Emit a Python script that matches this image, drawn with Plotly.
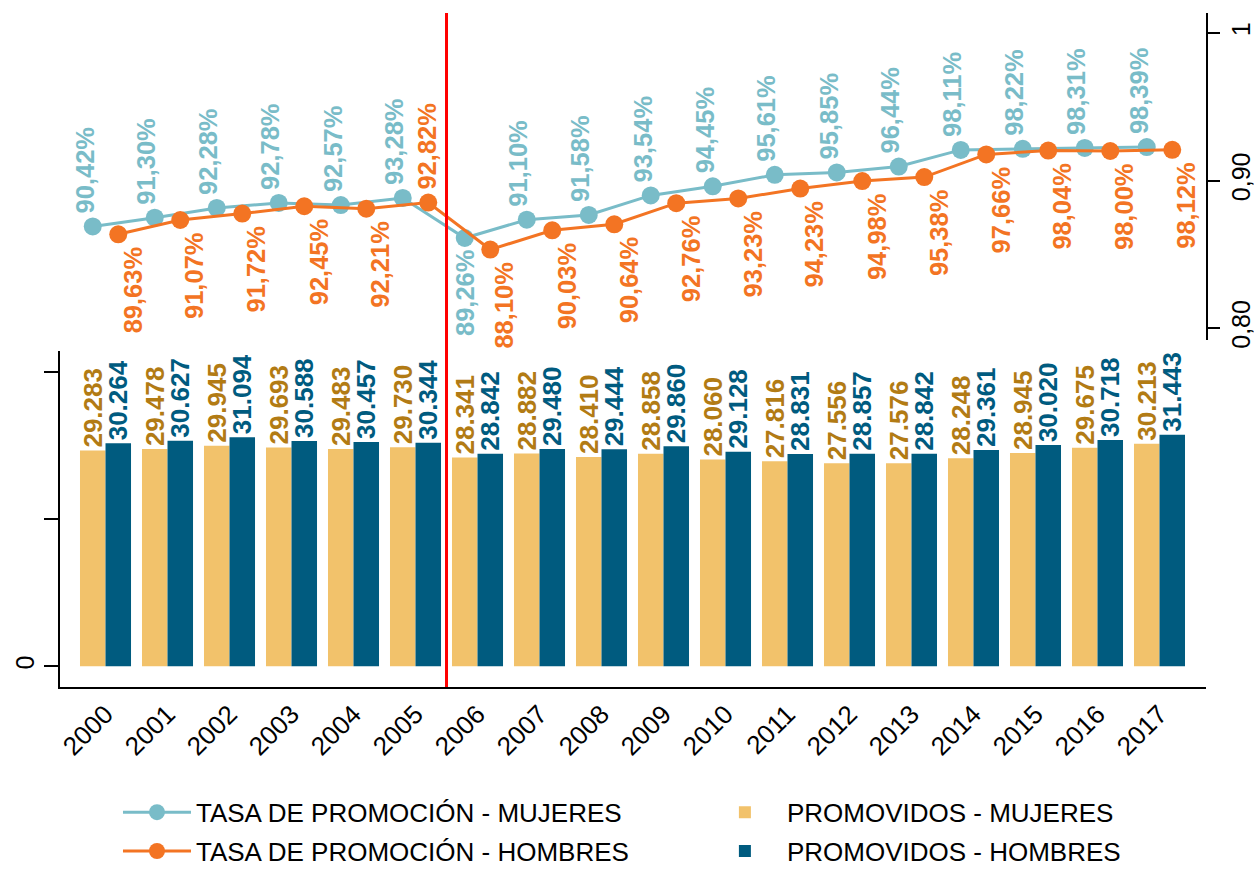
import plotly.graph_objects as go

# ---------------- data ----------------
YEARS = ["2000", "2001", "2002", "2003", "2004", "2005", "2006", "2007", "2008",
         "2009", "2010", "2011", "2012", "2013", "2014", "2015", "2016", "2017"]

PROMOVIDOS_MUJERES = [29283, 29478, 29945, 29693, 29483, 29730, 28341, 28882, 28410,
                      28858, 28060, 27816, 27556, 27576, 28248, 28945, 29675, 30213]
PROMOVIDOS_HOMBRES = [30264, 30627, 31094, 30588, 30457, 30344, 28842, 29480, 29444,
                      29860, 29128, 28831, 28857, 28842, 29361, 30020, 30718, 31443]

TASA_MUJERES = [90.42, 91.30, 92.28, 92.78, 92.57, 93.28, 89.26, 91.10, 91.58,
                93.54, 94.45, 95.61, 95.85, 96.44, 98.11, 98.22, 98.31, 98.39]
TASA_HOMBRES = [89.63, 91.07, 91.72, 92.45, 92.21, 92.82, 88.10, 90.03, 90.64,
                92.76, 93.23, 94.23, 94.98, 95.38, 97.66, 98.04, 98.00, 98.12]

LEFT_TICKS = [0, 20000, 40000]
LEFT_TICKTEXT = ["0", "", ""]
RIGHT_TICKS = [0.80, 0.90, 1.0]
RIGHT_TICKTEXT = ["0,80", "0,90", "1"]

BREAK_AFTER = "2005"            # red reference line sits between 2005 and 2006
HOMBRES_LABEL_ABOVE = {"2005"}  # years where the men's label goes above the point
MUJERES_LABEL_BELOW = {"2006"}  # years where the women's label goes below the point

# ---------------- style ----------------
C_BAR_M = "#F2C26B"
C_BAR_H = "#005B7F"
C_LAB_M = "#B27B14"
C_LINE_M = "#79BCC8"
C_LINE_H = "#F37423"
FONT = "Liberation Sans, Arial, sans-serif"

fig = go.Figure()

fig.add_bar(x=YEARS, y=PROMOVIDOS_MUJERES, name="PROMOVIDOS - MUJERES",
            marker=dict(color=C_BAR_M, line=dict(width=0)),
            texttemplate="%{y:,.0f}", textposition="outside", textangle=-90,
            textfont=dict(color=C_LAB_M, size=26, family=FONT, weight="bold"),
            cliponaxis=False, constraintext="none", yaxis="y", legend="legend2",
            legendgroup="pm", hoverinfo="skip")
fig.add_bar(x=YEARS, y=PROMOVIDOS_HOMBRES, name="PROMOVIDOS - HOMBRES",
            marker=dict(color=C_BAR_H, line=dict(width=0)),
            texttemplate="%{y:,.0f}", textposition="outside", textangle=-90,
            textfont=dict(color=C_BAR_H, size=26, family=FONT, weight="bold"),
            cliponaxis=False, constraintext="none", yaxis="y", legend="legend2",
            legendgroup="ph", hoverinfo="skip")

# dummy trace so the right-hand axis is drawn
fig.add_scatter(x=[], y=[], yaxis="y2", showlegend=False, hoverinfo="skip")

fig.add_scatter(x=YEARS, y=TASA_MUJERES, mode="lines+markers",
                name="TASA DE PROMOCIÓN - MUJERES",
                line=dict(color=C_LINE_M, width=3), marker=dict(size=18, color=C_LINE_M),
                yaxis="y3", legend="legend", legendgroup="tm",
                cliponaxis=False, hoverinfo="skip")
fig.add_scatter(x=YEARS, y=TASA_HOMBRES, mode="lines+markers",
                name="TASA DE PROMOCIÓN - HOMBRES",
                line=dict(color=C_LINE_H, width=3), marker=dict(size=18, color=C_LINE_H),
                yaxis="y3", legend="legend", legendgroup="th",
                cliponaxis=False, hoverinfo="skip")


def pct(v):
    return f"{v:.2f}%".replace(".", ",")


# category axis: annotations use the serial index of each category
annotations = []
for i, (yr, v) in enumerate(zip(YEARS, TASA_MUJERES)):
    below = yr in MUJERES_LABEL_BELOW
    annotations.append(dict(x=i, y=v, xref="x", yref="y3", text=pct(v), showarrow=False,
                            textangle=-90, xanchor="center",
                            yanchor="top" if below else "bottom",
                            xshift=-13 if below else -21, yshift=-9 if below else 11,
                            font=dict(color=C_LINE_M, size=25.5, family=FONT, weight="bold")))
for i, (yr, v) in enumerate(zip(YEARS, TASA_HOMBRES)):
    above = yr in HOMBRES_LABEL_ABOVE
    annotations.append(dict(x=i, y=v, xref="x", yref="y3", text=pct(v), showarrow=False,
                            textangle=-90, xanchor="center",
                            yanchor="bottom" if above else "top",
                            xshift=12 if above else 27, yshift=11 if above else -10,
                            font=dict(color=C_LINE_H, size=25.5, family=FONT, weight="bold")))

brk = YEARS.index(BREAK_AFTER) + 0.5

fig.update_layout(
    width=1254, height=869,
    margin=dict(l=60, r=48, t=13, b=182, autoexpand=False),
    paper_bgcolor="white", plot_bgcolor="white",
    separators=",.",
    font=dict(family=FONT, size=25, color="black"),
    barmode="group", bargap=0.177, bargroupgap=0,
    scattermode="group", scattergap=0.177,
    xaxis=dict(type="category", range=[-0.734, 17.75], showline=True, linecolor="black",
               linewidth=1.5, ticks="", tickangle=-45, showgrid=False, zeroline=False,
               tickfont=dict(size=26)),
    yaxis=dict(domain=[0, 0.499], range=[-2810, 42840], tickvals=LEFT_TICKS,
               ticktext=LEFT_TICKTEXT, ticks="outside", ticklen=14, tickwidth=1.5,
               tickcolor="black", showline=True, linecolor="black", linewidth=1.5,
               showgrid=False, zeroline=False, tickangle=-90),
    yaxis2=dict(domain=[0.5149, 1], range=[0.792, 1.0136], side="right", anchor="x",
                tickvals=RIGHT_TICKS, ticktext=RIGHT_TICKTEXT, ticks="outside",
                ticklen=12, tickwidth=1.5, tickcolor="black", showline=True,
                linecolor="black", linewidth=1.5, showgrid=False, zeroline=False,
                tickangle=-90),
    yaxis3=dict(overlaying="y2", anchor="x", side="right", range=[79.02, 111.86],
                showline=False, showticklabels=False, ticks="", showgrid=False,
                zeroline=False),
    legend=dict(orientation="v", x=0.0506, y=-0.151, xanchor="left", yanchor="top",
                font=dict(size=26), bgcolor="rgba(0,0,0,0)", itemwidth=68,
                tracegroupgap=2),
    legend2=dict(orientation="v", x=0.561, y=-0.151, xanchor="left", yanchor="top",
                 font=dict(size=26), bgcolor="rgba(0,0,0,0)", itemwidth=74,
                 tracegroupgap=2),
    shapes=[dict(type="line", xref="x", x0=brk, x1=brk, yref="paper", y0=0, y1=1,
                 line=dict(color="#FF0000", width=3))],
    annotations=annotations,
)

fig.write_html("out.html", config={"displayModeBar": False},
               post_script="document.body.style.margin='0';document.body.style.overflow='hidden';")
